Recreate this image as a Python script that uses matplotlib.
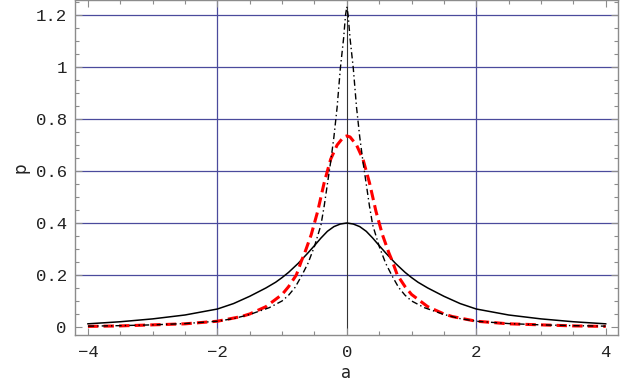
import matplotlib
matplotlib.use("Agg")
import matplotlib.pyplot as plt
from matplotlib.ticker import MultipleLocator

# --- data ---
a_solid = [-4.0, -3.5, -3.0, -2.5, -2.0, -1.75, -1.5, -1.25, -1.1, -1.0, -0.9, -0.75, -0.6, -0.5, -0.4, -0.3,
           -0.2, -0.1, 0.0, 0.1, 0.2, 0.3, 0.4, 0.5, 0.6, 0.75, 0.9, 1.0, 1.1, 1.25, 1.5, 1.75, 2.0,
           2.5, 3.0, 3.5, 4.0]
p_solid = [0.012, 0.020, 0.031, 0.046, 0.069, 0.090, 0.118, 0.150, 0.172, 0.190, 0.210, 0.245, 0.285, 0.313, 0.342, 0.368,
           0.386, 0.396, 0.400, 0.396, 0.386, 0.368, 0.342, 0.313, 0.285, 0.245, 0.210, 0.190, 0.172, 0.150, 0.118, 0.090, 0.069,
           0.046, 0.031, 0.020, 0.012]

a_dashed = [-4.0, -3.5, -3.0, -2.5, -2.0, -1.63, -1.5, -1.25, -1.0, -0.9, -0.78, -0.7, -0.65, -0.55, -0.45,
            -0.35, -0.25, -0.15, -0.05, 0.0, 0.05, 0.15, 0.25, 0.35, 0.45, 0.55, 0.65, 0.7, 0.78, 0.9, 1.0,
            1.25, 1.5, 1.63, 2.0, 2.5, 3.0, 3.5, 4.0]
p_dashed = [0.002, 0.004, 0.008, 0.012, 0.022, 0.040, 0.050, 0.078, 0.125, 0.155, 0.200, 0.255, 0.285, 0.355, 0.445,
            0.555, 0.645, 0.700, 0.731, 0.735, 0.731, 0.700, 0.645, 0.555, 0.445, 0.355, 0.285, 0.255, 0.200, 0.155, 0.125,
            0.078, 0.050, 0.040, 0.022, 0.012, 0.008, 0.004, 0.002]

a_dashdot = [-4.0, -3.5, -3.0, -2.5, -2.0, -1.75, -1.5, -1.2, -1.0, -0.9, -0.8, -0.7, -0.6, -0.5, -0.4, -0.35,
             -0.3, -0.25, -0.2, -0.15, -0.1, -0.05, -0.02, 0.0, 0.02, 0.05, 0.1, 0.15, 0.2, 0.25, 0.3, 0.35,
             0.4, 0.5, 0.6, 0.7, 0.8, 0.9, 1.0, 1.2, 1.5, 1.75, 2.0, 2.5, 3.0, 3.5, 4.0]
p_dashdot = [0.003, 0.005, 0.008, 0.013, 0.022, 0.032, 0.048, 0.074, 0.100, 0.122, 0.152, 0.196, 0.245, 0.310, 0.392, 0.465,
             0.550, 0.635, 0.730, 0.845, 0.995, 1.110, 1.200, 1.232, 1.200, 1.110, 0.995, 0.845, 0.730, 0.635, 0.550, 0.465,
             0.392, 0.310, 0.245, 0.196, 0.152, 0.122, 0.100, 0.074, 0.048, 0.032, 0.022, 0.013, 0.008, 0.005, 0.003]

x_ticks = [-4, -2, 0, 2, 4]
y_ticks = [0, 0.2, 0.4, 0.6, 0.8, 1.0, 1.2]
y_tick_labels = ["0", "0.2", "0.4", "0.6", "0.8", "1", "1.2"]
x_grid = [-2, 2]
y_grid = [0.2, 0.4, 0.6, 0.8, 1.0, 1.2]

fig = plt.figure(figsize=(6.23, 3.85), dpi=100)
ax = fig.add_axes([75 / 623, 50 / 385, (618 - 75) / 623, (385 - 50) / 385])
ax.set_xlim(-4.2, 4.19)
ax.set_ylim(-0.031, 1.258)

grid_col = "#4a4a9c"
for g in x_grid:
    ax.axvline(g, color=grid_col, lw=0.9, zorder=1)
for g in y_grid:
    ax.axhline(g, color=grid_col, lw=0.9, zorder=1)
ax.axvline(0, color="#333333", lw=0.8, zorder=1)

ax.plot(a_solid, p_solid, color="black", lw=1.1, zorder=3)
ax.plot(a_dashed, p_dashed, color="#ff0000", lw=2.2, linestyle=(0, (3.4, 1.7)), zorder=4)
ax.plot(a_dashdot, p_dashdot, color="black", lw=1.0, linestyle=(0, (4.5, 2.2, 1.0, 2.2)), zorder=5)

frame_col = "#8c8c8c"
for s in ax.spines.values():
    s.set_color(frame_col)
    s.set_linewidth(1.0)

ax.set_xticks(x_ticks)
ax.set_yticks(y_ticks)
ax.set_yticklabels(y_tick_labels)
ax.xaxis.set_minor_locator(MultipleLocator(0.5))
ax.yaxis.set_minor_locator(MultipleLocator(0.05))
ax.tick_params(which="both", direction="in", top=True, right=True, color=frame_col, width=0.8)
ax.tick_params(which="major", length=5)
ax.tick_params(which="minor", length=3)
for lab in ax.get_xticklabels() + ax.get_yticklabels():
    lab.set_fontfamily("Liberation Mono")
    lab.set_fontsize(12.5)
    lab.set_color("#222222")
ax.tick_params(axis="x", pad=7)
ax.tick_params(axis="y", pad=6)

ax.set_xlabel("a", fontsize=12, family="DejaVu Sans", color="#222222", labelpad=3)
ax.set_ylabel("p", fontsize=12, family="DejaVu Sans", color="#222222", labelpad=4)

fig.savefig("out.png", dpi=100)
